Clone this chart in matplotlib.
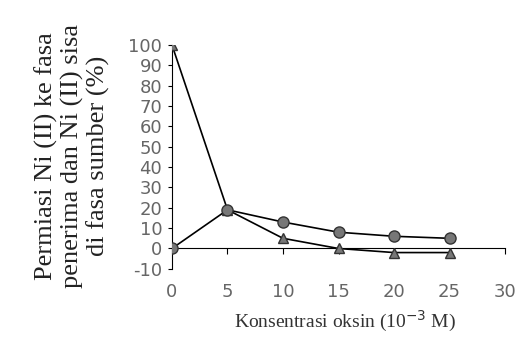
import numpy as np
import matplotlib
matplotlib.use("Agg")
import matplotlib.pyplot as plt

# data
konsentrasi = [0, 5, 10, 15, 20, 25]
permeasi = [0, 19, 13, 8, 6, 5]          # Ni(II) in receiving phase (circles)
sisa = [100, 19, 5, 0, -2, -2]           # Ni(II) left in source phase (triangles)
xticks = [0, 5, 10, 15, 20, 25, 30]
yticks = list(range(-10, 101, 10))

fig = plt.figure(figsize=(5.18, 3.46), dpi=100)
ax = fig.add_axes([0.332, 0.223, 0.643, 0.647])

ax.plot(konsentrasi, sisa, color="black", lw=1.2, marker="^", ms=7,
        mfc="#777777", mec="#333333", zorder=3)
ax.plot(konsentrasi, permeasi, color="black", lw=1.2, marker="o", ms=8,
        mfc="#777777", mec="#333333", zorder=4)

ax.set_xlim(0, 30)
ax.set_ylim(-10, 100)
for s in ["top", "right"]:
    ax.spines[s].set_visible(False)
ax.spines["bottom"].set_position(("data", 0))
ax.spines["left"].set_bounds(-10, 100)

ax.set_xticks(xticks)
ax.set_xticklabels([str(v) for v in xticks])
ax.set_yticks(yticks)
ax.set_yticklabels([str(v) for v in yticks])
ax.tick_params(axis="x", direction="out", length=4, pad=21, labelsize=13,
               labelcolor="#666666", labelfontfamily="DejaVu Sans")
ax.tick_params(axis="y", direction="out", length=3, pad=4, labelsize=13,
               labelcolor="#666666", labelfontfamily="DejaVu Sans")

fig.text(0.666, 0.07, "Konsentrasi oksin (10$^{-3}$ M)", ha="center", va="center",
         fontsize=14, family="Liberation Serif", color="#333333")
fig.text(0.139, 0.55, "Permiasi Ni (II) ke fasa\npenerima dan Ni (II) sisa\ndi fasa sumber (%)",
         rotation=90, ha="center", va="center", fontsize=19,
         family="Liberation Serif", color="#222222", linespacing=1.15)

fig.savefig("out.png", dpi=100)
